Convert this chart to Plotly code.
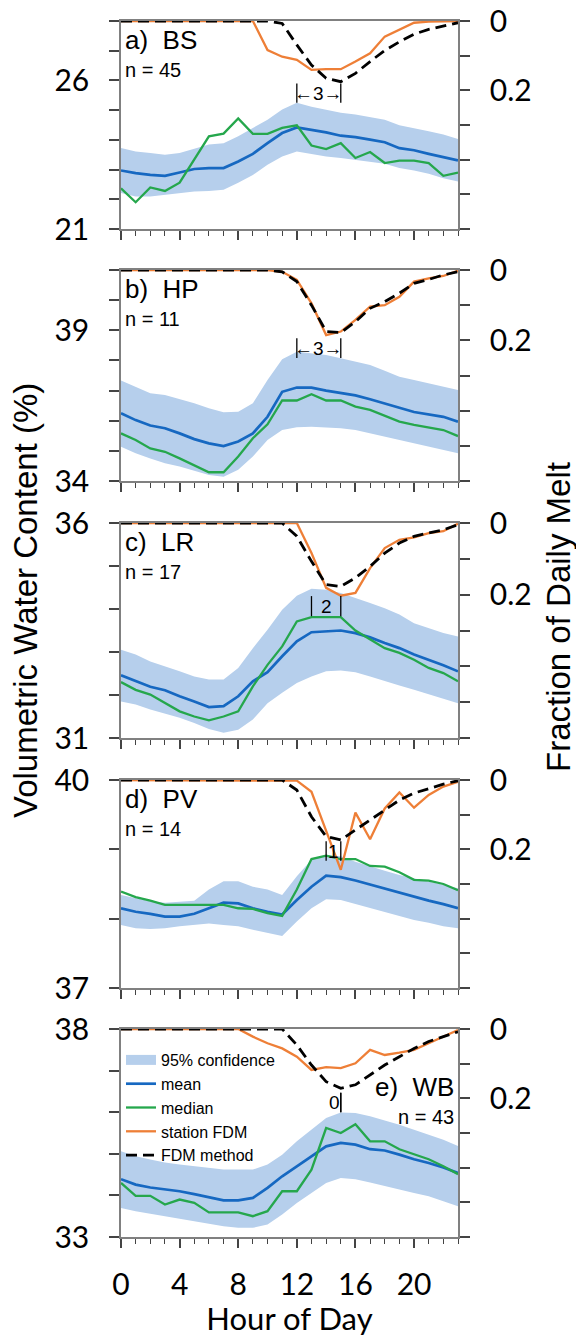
import plotly.graph_objects as go

hours = list(range(24))
letters = ["a", "b", "c", "d", "e"]
sites = ["BS", "HP", "LR", "PV", "WB"]
n_obs = [45, 11, 17, 14, 43]

# left-axis ranges and labelled ticks
vwc_min = [21, 34, 31, 37, 33]
vwc_max = [28, 41, 36, 40, 38]
vwc_lab = [[21, 26], [34, 39], [31, 36], [37, 40], [33, 38]]
fdm_ticks = [0, 0.1, 0.2, 0.3, 0.4, 0.5, 0.6]
fdm_text = ["0", "", "0.2", "", "", "", ""]

# lag annotations: (start hour, end hour, lag, y on melt axis)
lag_start = [12, 12, 13, 14, 15]
lag_end = [15, 15, 15, 15, 15]
lag_val = [3, 3, 2, 1, 0]
lag_y = [0.208, 0.222, 0.232, 0.205, 0.212]

mean_bs = [22.97, 22.88, 22.82, 22.79, 22.90, 23.02, 23.05, 23.05, 23.27, 23.53, 23.89, 24.23,
           24.42, 24.34, 24.25, 24.14, 24.09, 24.01, 23.92, 23.72, 23.65, 23.53, 23.42, 23.31]
median_bs = [22.37, 21.90, 22.40, 22.28, 22.56, 23.33, 24.12, 24.21, 24.72, 24.20, 24.20, 24.40,
             24.49, 23.81, 23.69, 23.89, 23.39, 23.59, 23.22, 23.30, 23.30, 23.22, 22.79, 22.90]
upper_bs = [23.73, 23.61, 23.56, 23.50, 23.56, 23.70, 23.84, 23.89, 24.12, 24.40, 24.68, 25.02,
            25.25, 25.11, 25.02, 24.91, 24.85, 24.77, 24.68, 24.49, 24.40, 24.29, 24.18, 24.03]
lower_bs = [22.21, 22.09, 22.09, 22.15, 22.21, 22.26, 22.28, 22.32, 22.56, 22.82, 23.16, 23.44,
            23.61, 23.53, 23.44, 23.39, 23.33, 23.27, 23.20, 23.05, 22.97, 22.86, 22.71, 22.60]
station_bs = [0, 0, 0, 0, 0, 0, 0, 0, 0, 0, 0.084, 0.103,
              0.112, 0.141, 0.139, 0.139, 0.117, 0.093, 0.045, 0.026, 0.005, 0.002, 0, 0]
fdm_bs = [0, 0, 0, 0, 0, 0, 0, 0, 0, 0, 0, 0.007,
          0.069, 0.127, 0.165, 0.175, 0.151, 0.117, 0.085, 0.060, 0.038, 0.024, 0.014, 0.005]

mean_hp = [36.25, 36.02, 35.84, 35.75, 35.58, 35.39, 35.25, 35.16, 35.31, 35.58, 36.13, 36.96,
           37.10, 37.10, 37.00, 36.91, 36.84, 36.71, 36.56, 36.43, 36.29, 36.21, 36.13, 35.97]
median_hp = [35.58, 35.36, 35.08, 34.97, 34.75, 34.53, 34.29, 34.29, 34.81, 35.42, 35.88, 36.67,
             36.67, 36.88, 36.67, 36.67, 36.47, 36.36, 36.16, 35.97, 35.86, 35.78, 35.69, 35.49]
upper_hp = [37.33, 37.13, 36.91, 36.85, 36.71, 36.58, 36.41, 36.28, 36.30, 36.58, 37.35, 38.04,
            38.29, 38.24, 38.18, 38.07, 37.96, 37.85, 37.66, 37.46, 37.35, 37.24, 37.13, 37.02]
lower_hp = [35.14, 34.92, 34.75, 34.59, 34.48, 34.34, 34.20, 34.14, 34.37, 34.81, 35.36, 35.69,
            35.78, 35.80, 35.78, 35.75, 35.69, 35.58, 35.47, 35.36, 35.25, 35.14, 35.03, 34.92]
station_hp = [0, 0, 0, 0, 0, 0, 0, 0, 0, 0, 0, 0.005,
              0.028, 0.095, 0.185, 0.175, 0.142, 0.104, 0.100, 0.076, 0.033, 0.024, 0.017, 0.002]
fdm_hp = [0, 0, 0, 0, 0, 0, 0, 0, 0, 0, 0, 0.005,
          0.033, 0.100, 0.175, 0.178, 0.147, 0.109, 0.090, 0.066, 0.038, 0.027, 0.014, 0.005]

mean_lr = [32.46, 32.32, 32.19, 32.11, 31.97, 31.85, 31.72, 31.74, 31.97, 32.32, 32.53, 32.90,
           33.25, 33.46, 33.48, 33.50, 33.44, 33.34, 33.21, 33.09, 32.94, 32.82, 32.69, 32.55]
median_lr = [32.30, 32.12, 32.01, 31.81, 31.62, 31.50, 31.41, 31.50, 31.62, 32.20, 32.70, 33.13,
             33.71, 33.81, 33.81, 33.81, 33.50, 33.30, 33.09, 32.98, 32.82, 32.63, 32.51, 32.32]
upper_lr = [33.05, 32.94, 32.78, 32.67, 32.55, 32.43, 32.36, 32.36, 32.63, 33.09, 33.52, 33.98,
            34.31, 34.47, 34.45, 34.37, 34.26, 34.14, 34.02, 33.87, 33.67, 33.56, 33.44, 33.36]
lower_lr = [31.85, 31.78, 31.66, 31.57, 31.47, 31.35, 31.21, 31.12, 31.19, 31.43, 31.81, 32.05,
            32.28, 32.43, 32.55, 32.57, 32.53, 32.43, 32.32, 32.22, 32.12, 32.01, 31.91, 31.81]
station_lr = [0, 0, 0, 0, 0, 0, 0, 0, 0, 0, 0, 0,
              0, 0.084, 0.181, 0.203, 0.195, 0.126, 0.070, 0.047, 0.040, 0.028, 0.023, 0.002]
fdm_lr = [0, 0, 0, 0, 0, 0, 0, 0, 0, 0, 0, 0,
          0.037, 0.107, 0.172, 0.177, 0.153, 0.121, 0.084, 0.056, 0.037, 0.028, 0.019, 0.005]

mean_pv = [38.15, 38.10, 38.07, 38.03, 38.03, 38.07, 38.15, 38.23, 38.22, 38.15, 38.10, 38.06,
           38.27, 38.46, 38.62, 38.60, 38.55, 38.49, 38.43, 38.37, 38.32, 38.26, 38.21, 38.15]
median_pv = [38.39, 38.31, 38.26, 38.20, 38.20, 38.20, 38.20, 38.20, 38.15, 38.14, 38.08, 38.04,
             38.42, 38.86, 38.91, 38.86, 38.86, 38.76, 38.75, 38.67, 38.56, 38.55, 38.50, 38.41]
upper_pv = [38.34, 38.30, 38.25, 38.23, 38.24, 38.26, 38.42, 38.54, 38.54, 38.46, 38.42, 38.34,
            38.61, 38.85, 38.92, 38.90, 38.82, 38.75, 38.69, 38.63, 38.58, 38.54, 38.49, 38.44]
lower_pv = [37.91, 37.86, 37.85, 37.86, 37.89, 37.91, 37.93, 37.91, 37.89, 37.84, 37.79, 37.75,
            37.96, 38.15, 38.28, 38.27, 38.21, 38.15, 38.09, 38.03, 37.98, 37.94, 37.89, 37.86]
station_pv = [0, 0, 0, 0, 0, 0, 0, 0, 0, 0, 0, 0,
              0.002, 0.034, 0.146, 0.259, 0.094, 0.171, 0.082, 0.036, 0.080, 0.043, 0.019, 0.005]
fdm_pv = [0, 0, 0, 0, 0, 0, 0, 0, 0, 0, 0, 0,
          0.029, 0.106, 0.163, 0.173, 0.144, 0.115, 0.086, 0.058, 0.038, 0.024, 0.012, 0.002]

mean_wb = [34.39, 34.26, 34.19, 34.15, 34.10, 34.03, 33.96, 33.88, 33.88, 33.94, 34.18, 34.46,
           34.70, 34.94, 35.18, 35.26, 35.22, 35.11, 35.08, 34.98, 34.87, 34.78, 34.67, 34.54]
median_wb = [34.30, 33.99, 33.99, 33.78, 33.90, 33.82, 33.59, 33.59, 33.59, 33.50, 33.62, 34.10,
             34.10, 34.62, 35.62, 35.50, 35.71, 35.30, 35.30, 35.11, 34.99, 34.87, 34.70, 34.51]
upper_wb = [35.06, 34.94, 34.86, 34.79, 34.74, 34.70, 34.66, 34.62, 34.62, 34.62, 34.74, 34.98,
            35.30, 35.58, 35.86, 35.99, 35.98, 35.90, 35.80, 35.70, 35.58, 35.46, 35.34, 35.19]
lower_wb = [33.70, 33.62, 33.56, 33.50, 33.43, 33.38, 33.31, 33.26, 33.22, 33.22, 33.30, 33.54,
            33.82, 34.06, 34.30, 34.42, 34.39, 34.31, 34.22, 34.14, 34.06, 33.98, 33.86, 33.74]
station_wb = [0, 0, 0, 0, 0, 0, 0, 0, 0, 0.022, 0.041, 0.056,
              0.080, 0.118, 0.110, 0.113, 0.099, 0.060, 0.075, 0.068, 0.060, 0.041, 0.022, 0.003]
fdm_wb = [0, 0, 0, 0, 0, 0, 0, 0, 0, 0, 0, 0,
          0.046, 0.104, 0.152, 0.171, 0.161, 0.132, 0.104, 0.080, 0.056, 0.036, 0.022, 0.008]

means = [mean_bs, mean_hp, mean_lr, mean_pv, mean_wb]
medians = [median_bs, median_hp, median_lr, median_pv, median_wb]
uppers = [upper_bs, upper_hp, upper_lr, upper_pv, upper_wb]
lowers = [lower_bs, lower_hp, lower_lr, lower_pv, lower_wb]
stations = [station_bs, station_hp, station_lr, station_pv, station_wb]
fdms = [fdm_bs, fdm_hp, fdm_lr, fdm_pv, fdm_wb]

# ---- styling / layout ----
W, H = 576, 1337
ML, MR, MT, MB = 121, 118, 21, 100
PH = H - MT - MB
tops = [21, 270, 523, 780, 1029]
bots = [229, 481, 738, 988, 1237]

C_BAND = "#b6cfec"
C_MEAN = "#1668c1"
C_MED = "#25a74c"
C_ORANGE = "#ee7f37"
AX = "#808080"
TICKFONT = dict(family="Lato", size=30, color="black")
TXT = "Liberation Sans"

def py(px):
    return (H - MB - px) / PH

fig = go.Figure()
layout = {}
annotations = []
shapes = []

for i in range(5):
    k = i + 1
    xa = "x" if k == 1 else f"x{k}"
    yl_n = 2 * i + 1
    yr_n = 2 * i + 2
    yl = "y" if yl_n == 1 else f"y{yl_n}"
    yr = f"y{yr_n}"
    last = (i == 4)

    if last:
        # legend-only swatch for the confidence band
        fig.add_trace(go.Scatter(x=[None], y=[None], mode="lines", name="95% confidence",
                                 line=dict(width=12, color=C_BAND), xaxis=xa, yaxis=yl,
                                 showlegend=True, hoverinfo="skip"))
    fig.add_trace(go.Scatter(x=hours, y=lowers[i], mode="lines", line=dict(width=0, color=C_BAND),
                             xaxis=xa, yaxis=yl, showlegend=False, hoverinfo="skip"))
    fig.add_trace(go.Scatter(x=hours, y=uppers[i], mode="lines", line=dict(width=0, color=C_BAND),
                             fill="tonexty", fillcolor=C_BAND, name="95% confidence",
                             xaxis=xa, yaxis=yl, showlegend=False))
    fig.add_trace(go.Scatter(x=hours, y=means[i], mode="lines", line=dict(width=2.7, color=C_MEAN),
                             name="mean", xaxis=xa, yaxis=yl, showlegend=last))
    fig.add_trace(go.Scatter(x=hours, y=medians[i], mode="lines", line=dict(width=2.3, color=C_MED),
                             name="median", xaxis=xa, yaxis=yl, showlegend=last))
    fig.add_trace(go.Scatter(x=hours, y=stations[i], mode="lines", line=dict(width=2.3, color=C_ORANGE),
                             name="station FDM", xaxis=xa, yaxis=yr, showlegend=last))
    fig.add_trace(go.Scatter(x=hours, y=fdms[i], mode="lines",
                             line=dict(width=2.8, color="black", dash="11px,6px"),
                             name="FDM method", xaxis=xa, yaxis=yr, showlegend=last))

    dom = [py(bots[i]), py(tops[i])]
    xkey = "xaxis" if k == 1 else f"xaxis{k}"
    layout[xkey] = dict(
        domain=[0, 1], range=[0, 23], anchor=yl, showline=True, linecolor=AX, linewidth=1.5,
        mirror=True, ticks="outside", ticklen=9, tickwidth=1.5, tickcolor="#444",
        tick0=0, dtick=4, showgrid=False, zeroline=False, automargin=False,
        minor=dict(dtick=1, ticks="outside", ticklen=5, tickwidth=1.2, tickcolor="#444"),
        showticklabels=last, tickfont=TICKFONT, ticklabelstandoff=11,
    )
    if last:
        layout[xkey]["title"] = dict(text="Hour of Day", font=dict(family="Lato", size=31, color="black"),
                                     standoff=14)
    vals = list(range(vwc_min[i], vwc_max[i] + 1))
    layout["yaxis" if yl_n == 1 else f"yaxis{yl_n}"] = dict(
        domain=dom, range=[vwc_min[i], vwc_max[i]], anchor=xa, side="left",
        showline=True, linecolor=AX, linewidth=1.5, ticks="outside", ticklen=10,
        tickwidth=1.5, tickcolor="#444", tickvals=vals,
        ticktext=[str(v) if v in vwc_lab[i] else "" for v in vals], automargin=False,
        tickfont=TICKFONT, ticklabelstandoff=14, showgrid=False, zeroline=False,
    )
    layout[f"yaxis{yr_n}"] = dict(
        overlaying=yl, side="right", anchor=xa, range=[0.6, 0], automargin=False,
        showline=True, linecolor=AX, linewidth=1.5, ticks="outside", ticklen=10,
        tickwidth=1.5, tickcolor="#444", tickvals=fdm_ticks, ticktext=fdm_text,
        tickfont=TICKFONT, ticklabelstandoff=14, showgrid=False, zeroline=False,
    )

    ph = bots[i] - tops[i]
    if not last:
        lx, anc, off1, off2 = 0.005, "left", 19, 49
    else:
        lx, anc, off1, off2 = 0.995, "right", 58, 88
    annotations.append(dict(xref=f"{xa} domain", yref=f"{yl} domain", x=lx,
                            y=1 - off1 / ph, xanchor=anc, yanchor="middle",
                            text=f"{letters[i]})\u00a0\u00a0{sites[i]}", showarrow=False,
                            font=dict(family=TXT, size=26, color="black")))
    annotations.append(dict(xref=f"{xa} domain", yref=f"{yl} domain", x=lx,
                            y=1 - off2 / ph, xanchor=anc, yanchor="middle",
                            text=f"n = {n_obs[i]}", showarrow=False,
                            font=dict(family=TXT, size=20, color="black")))

    # lag bars and text
    for xb in (lag_start[i], lag_end[i]):
        shapes.append(dict(type="line", xref=xa, yref=yr, x0=xb, x1=xb,
                           y0=lag_y[i] - 0.028, y1=lag_y[i] + 0.028,
                           line=dict(color="black", width=1.3)))
    if lag_val[i] >= 3:
        txt = f"\u2190{lag_val[i]}\u2192"
    else:
        txt = f"{lag_val[i]}"
    xt = (lag_start[i] + lag_end[i]) / 2 if lag_val[i] > 0 else lag_end[i] - 0.45
    annotations.append(dict(xref=xa, yref=yr, x=xt, y=lag_y[i], text=txt, showarrow=False,
                            xanchor="center", yanchor="middle",
                            font=dict(family=TXT, size=19, color="black")))

# axis titles
annotations.append(dict(xref="paper", yref="paper", x=(25 - ML) / (W - ML - MR), y=py(601),
                        text="Volumetric Water Content (%)", textangle=-90, showarrow=False,
                        xanchor="center", yanchor="middle",
                        font=dict(family=TXT, size=33, color="black")))
annotations.append(dict(xref="paper", yref="paper", x=(558 - ML) / (W - ML - MR), y=py(617),
                        text="Fraction of Daily Melt", textangle=-90, showarrow=False,
                        xanchor="center", yanchor="middle",
                        font=dict(family=TXT, size=33, color="black")))

fig.update_layout(
    width=W, height=H, margin=dict(l=ML, r=MR, t=MT, b=MB, autoexpand=False),
    paper_bgcolor="white", plot_bgcolor="rgba(0,0,0,0)",
    annotations=annotations, shapes=shapes,
    legend=dict(x=0.0, y=py(1043), xanchor="left", yanchor="top", bgcolor="rgba(0,0,0,0)",
                font=dict(family=TXT, size=16, color="black"), itemwidth=30,
                traceorder="normal", tracegroupgap=0),
    **layout,
)

fig.write_html("out.html")
